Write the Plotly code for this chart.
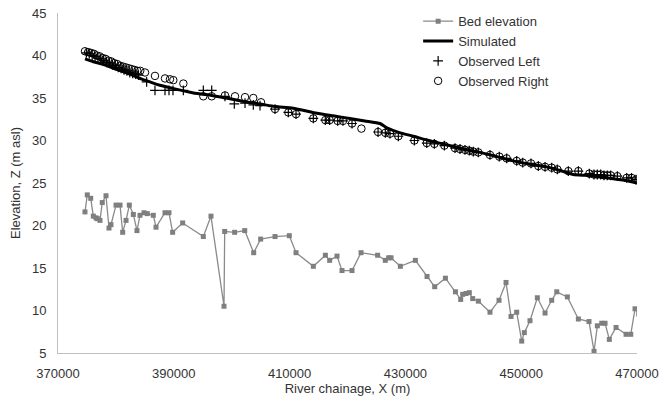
import plotly.graph_objects as go

# Bed elevation
bed_x = [374660, 375060, 375650, 376100, 376560, 376790, 377250, 377650, 378290, 378810, 379150,
         380020, 380710, 381170, 381750, 382320, 383010, 383640, 384160, 384850, 385420, 386460,
         386930, 388480, 389170, 389800, 391530, 395100, 396420, 398670, 398790, 400510, 402250,
         403800, 405000, 407480, 409950, 411110, 414100, 416180, 416920, 418190, 419050, 420780,
         422340, 425200, 426530, 427110, 427520, 429130, 431720, 433740, 435060, 436910, 438640,
         439550, 439890, 440470, 441040, 441620, 442600, 444610, 446170, 447380, 448240, 449220,
         450090, 450540, 451520, 452790, 454120, 455270, 456140, 457970, 459870, 461710, 462580,
         463150, 463910, 464480, 465220, 466380, 468110, 468920, 469660, 470300]
bed_y = [21.6, 23.6, 23.2, 21.1, 20.9, 20.8, 20.6, 22.7, 23.5, 19.7, 20.1,
         22.4, 22.4, 19.2, 20.6, 22.4, 21.3, 19.4, 21.2, 21.5, 21.4, 21.2,
         19.8, 21.5, 21.5, 19.2, 20.3, 18.7, 21.1, 10.5, 19.3, 19.2, 19.4,
         16.8, 18.4, 18.7, 18.8, 16.8, 15.2, 16.5, 15.9, 16.4, 14.7, 14.7,
         16.8, 16.5, 15.9, 16.2, 16.2, 15.2, 15.9, 14.0, 12.8, 13.8, 12.2,
         11.3, 11.9, 12.0, 12.1, 11.4, 11.1, 9.8, 11.2, 13.3, 9.3, 9.8,
         6.4, 7.4, 8.8, 11.5, 9.7, 11.2, 12.2, 11.6, 9.0, 8.7, 5.2,
         8.2, 8.5, 8.5, 6.6, 8.0, 7.2, 7.2, 10.2, 9.6]

# Simulated water surface
sim_x = [374660, 376000, 378000, 380000, 382400, 385000, 387600, 390000, 393400, 396500,
         399100, 402000, 404900, 407500, 410600, 414700, 417500, 420400, 423000, 425600,
         426800, 429100, 431400, 434000, 437100, 440000, 442900, 445800, 448600, 451500,
         454400, 457000, 459000, 461000, 463000, 465900, 468000, 470000]
sim_y = [39.6, 39.3, 38.9, 38.4, 37.8, 37.1, 36.5, 36.1, 35.6, 35.3,
         35.0, 34.6, 34.3, 34.0, 33.8, 33.2, 32.9, 32.6, 32.3, 32.0,
         31.5, 30.9, 30.5, 30.0, 29.5, 29.0, 28.6, 28.1, 27.6, 27.2,
         26.9, 26.4, 26.0, 25.9, 25.8, 25.5, 25.3, 25.0]

# Observed right bank
right_x = [374660, 375200, 375700, 376200, 376700, 377200, 377700, 378200, 378700, 379200,
           379700, 380200, 380700, 381200, 381700, 382200, 382700, 383200, 383700, 384200,
           385030, 386750, 388480, 389340, 389920, 391650, 395100, 396550, 398840, 400570,
           402300, 403730, 405060, 407480, 409780, 411110, 414100, 416170, 416920, 418300,
           419220, 420780, 422400, 425280, 426530, 427340, 428780, 431550, 433690, 435000,
           436730, 438570, 439430, 440290, 441040, 441730, 442590, 444610, 446220, 447490,
           449220, 450260, 451690, 452960, 454120, 455270, 456240, 458140, 459870, 461770,
           462570, 463150, 463720, 464300, 464870, 465450, 466610, 468220, 469060, 469830]
right_y = [40.5, 40.4, 40.3, 40.2, 40.0, 39.9, 39.7, 39.6, 39.4, 39.3,
           39.1, 39.0, 38.8, 38.7, 38.6, 38.5, 38.4, 38.3, 38.2, 38.2,
           38.0, 37.6, 37.3, 37.2, 37.1, 36.7, 35.2, 35.2, 35.3, 35.2,
           35.1, 35.0, 34.5, 33.7, 33.3, 33.1, 32.6, 32.4, 32.4, 32.3,
           32.3, 32.0, 31.4, 31.0, 30.9, 30.8, 30.5, 30.0, 29.7, 29.6,
           29.4, 29.1, 29.0, 28.9, 28.8, 28.7, 28.6, 28.3, 28.1, 27.9,
           27.6, 27.4, 27.3, 27.0, 26.9, 26.8, 26.6, 26.4, 26.4, 26.1,
           26.0, 26.0, 26.0, 25.9, 25.9, 25.9, 25.8, 25.6, 25.6, 25.4]

# Observed left bank
left_x = [374900, 375400, 375900, 376400, 376900, 377400, 377900, 378400, 378900, 379400,
          379900, 380400, 380900, 381400, 381900, 382400, 382900, 383400, 383900, 385310,
          386750, 388480, 389170, 389860, 391650, 395100, 396550, 398840, 400450, 402300,
          403730, 404890, 407480, 409780, 411110, 414100, 416170, 416920, 418300, 419220,
          420780, 425280, 426530, 427340, 428780, 431550, 433690, 435000, 436730, 438570,
          439430, 440290, 441040, 441730, 442590, 444610, 446220, 447490, 449220, 450260,
          451690, 452960, 454120, 455270, 456240, 458140, 459870, 461770, 462570, 463150,
          463720, 464300, 464870, 465450, 466610, 468220, 469060, 469830]
left_y = [40.3, 40.2, 40.0, 39.9, 39.7, 39.6, 39.4, 39.2, 39.1, 38.9,
          38.8, 38.6, 38.5, 38.3, 38.2, 38.0, 37.9, 37.8, 37.7, 36.9,
          35.9, 35.9, 35.9, 35.9, 35.9, 35.9, 35.9, 35.2, 34.3, 34.4,
          34.2, 34.1, 33.7, 33.3, 33.1, 32.6, 32.4, 32.4, 32.3, 32.3,
          32.0, 31.0, 30.9, 30.8, 30.5, 30.0, 29.7, 29.6, 29.4, 29.1,
          29.0, 28.9, 28.8, 28.7, 28.6, 28.3, 28.1, 27.9, 27.6, 27.4,
          27.3, 27.0, 26.9, 26.8, 26.6, 26.4, 26.4, 26.1, 26.0, 26.0,
          26.0, 25.9, 25.9, 25.9, 25.8, 25.6, 25.6, 25.4]

x_ticks = [370000, 390000, 410000, 430000, 450000, 470000]
y_ticks = [5, 10, 15, 20, 25, 30, 35, 40, 45]

fig = go.Figure()
fig.add_trace(go.Scatter(x=bed_x, y=bed_y, mode="lines+markers", name="Bed elevation",
                         line=dict(color="#8a8a8a", width=1.3),
                         marker=dict(symbol="square", size=5, color="#7f7f7f")))
fig.add_trace(go.Scatter(x=sim_x, y=sim_y, mode="lines", name="Simulated",
                         line=dict(color="black", width=3, shape="spline", smoothing=0.5)))
fig.add_trace(go.Scatter(x=left_x, y=left_y, mode="markers", name="Observed Left",
                         marker=dict(symbol="cross-thin", size=7, color="black",
                                     line=dict(color="black", width=1.2))))
fig.add_trace(go.Scatter(x=right_x, y=right_y, mode="markers", name="Observed Right",
                         marker=dict(symbol="circle-open", size=7.5, color="black",
                                     line=dict(color="black", width=1))))

font_col = "#333333"
fig.update_layout(
    width=669, height=402,
    margin=dict(l=58, r=32, t=13, b=49, autoexpand=False),
    paper_bgcolor="white", plot_bgcolor="white",
    font=dict(family="Liberation Sans, Arial, sans-serif", size=13, color=font_col),
    showlegend=True,
    legend=dict(x=0.622, y=1.02, xanchor="left", yanchor="top", bgcolor="rgba(0,0,0,0)",
                font=dict(size=13, color=font_col), tracegroupgap=0, itemwidth=30),
)
fig.update_xaxes(range=[370000, 470000], tickvals=x_ticks, ticktext=[str(v) for v in x_ticks],
                 showgrid=False, zeroline=False, showline=True, linecolor="#bfbfbf", linewidth=1,
                 ticks="", ticklabelstandoff=8,
                 title=dict(text="River chainage, X (m)", font=dict(size=13), standoff=4))
fig.update_yaxes(range=[5, 45], tickvals=y_ticks, showgrid=False, zeroline=False,
                 showline=True, linecolor="#bfbfbf", linewidth=1, ticks="", ticklabelstandoff=8,
                 title=dict(text="Elevation, Z (m asl)", font=dict(size=13), standoff=8))

fig.write_html("out.html", config={"displayModeBar": False},
               post_script="document.body.style.margin='0';document.body.style.overflow='hidden';")
